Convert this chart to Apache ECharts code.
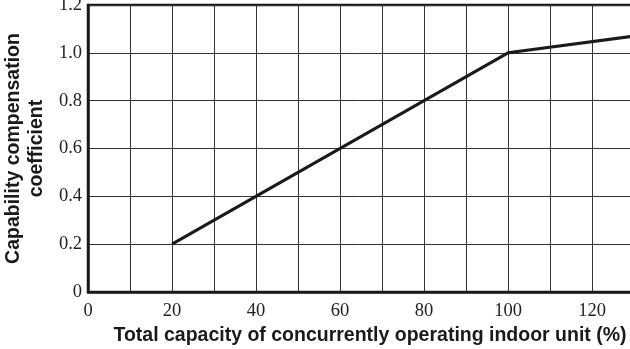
<!DOCTYPE html>
<html>
<head>
<meta charset="utf-8">
<script src="https://cdn.jsdelivr.net/npm/echarts@6/dist/echarts.min.js"></script>
<style>
html,body{margin:0;padding:0;background:#fff;}
#chart{width:630px;height:349px;}
</style>
</head>
<body>
<div id="chart"></div>
<script>
// Data
var xValues = [20, 100, 130];
var yValues = [0.2, 1.0, 1.07];
var xTitle = 'Total capacity of concurrently operating indoor unit (%)';
var yTitle = 'Capability compensation\ncoefficient';

var points = xValues.map(function (x, i) { return [x, yValues[i]]; });

var chart = echarts.init(document.getElementById('chart'), null, {renderer: 'canvas'});
chart.setOption({
  animation: false,
  backgroundColor: '#ffffff',
  grid: {
    left: 88, right: -4, top: 5, bottom: 57,
    outerBoundsMode: 'none',
    containLabel: false,
    show: true, borderColor: '#1a1a1a', borderWidth: 2.5, backgroundColor: 'transparent'
  },
  xAxis: {
    type: 'value',
    min: 0, max: 130, interval: 10,
    name: xTitle,
    nameLocation: 'middle',
    nameGap: 33,
    nameTextStyle: {fontFamily: 'Liberation Sans', fontWeight: 'bold', fontSize: 19.5, color: '#1a1a1a', padding: [0, 0, 0, 18]},
    axisLine: {show: true, onZero: false, lineStyle: {color: '#1a1a1a', width: 2.5}},
    axisTick: {show: false},
    axisLabel: {
      fontFamily: 'Liberation Serif', fontSize: 18.5, color: '#222', margin: 10,
      formatter: function (v) { return (v % 20 === 0) ? String(v) : ''; }
    },
    splitLine: {show: true, lineStyle: {color: '#333', width: 1}}
  },
  yAxis: {
    type: 'value',
    min: 0, max: 1.2, interval: 0.2,
    name: yTitle,
    nameLocation: 'middle',
    nameGap: 38,
    nameTextStyle: {fontFamily: 'Liberation Sans', fontWeight: 'bold', fontSize: 19.5, color: '#1a1a1a', lineHeight: 23},
    axisLine: {show: true, onZero: false, lineStyle: {color: '#1a1a1a', width: 2.5}},
    axisTick: {show: false},
    axisLabel: {
      fontFamily: 'Liberation Serif', fontSize: 18.5, color: '#222', margin: 6,
      formatter: function (v) { return v === 0 ? '0' : v.toFixed(1); }
    },
    splitLine: {show: true, lineStyle: {color: '#333', width: 1}}
  },
  series: [{
    type: 'line',
    data: points,
    showSymbol: false,
    symbol: 'none',
    lineStyle: {color: '#1a1a1a', width: 3},
    z: 5
  }]
});
</script>
</body>
</html>
